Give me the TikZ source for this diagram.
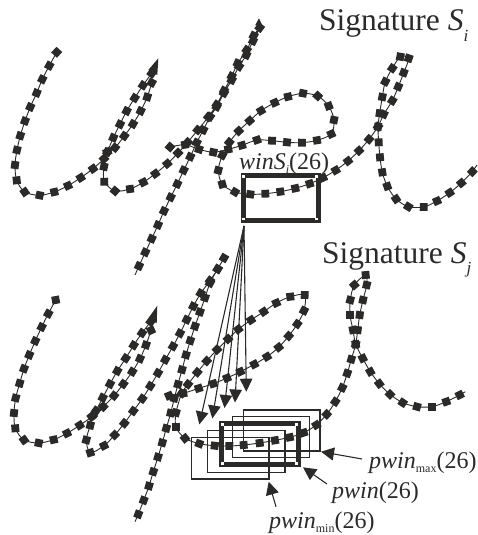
\documentclass[tikz,border=0pt]{standalone}
\usepackage{fontspec}
\setmainfont{Liberation Serif}
\usetikzlibrary{arrows.meta}
\definecolor{ink}{HTML}{2B2A29}
\tikzset{
  curveline/.style={draw=ink,line width=0.9pt},
  thinwin/.style={draw=ink,line width=1.5pt},
  thickwin/.style={draw=ink,line width=4.8pt},
  fanarrow/.style={draw=ink,line width=1.1pt,-{Triangle[length=13pt,width=12.5pt]}},
  callarrow/.style={draw=ink,line width=1.1pt,-{Triangle[length=13pt,width=13pt]}},
  bigtext/.style={text=ink,anchor=base west,inner sep=0pt,font=\fontsize{31.5}{34}\selectfont},
  labeltext/.style={text=ink,anchor=base west,inner sep=0pt,font=\fontsize{24}{26}\selectfont},
}
\newcommand{\sigstroke}[1]{%
  \gdef\acc{}%
  \foreach \x/\y in {#1}{\xdef\acc{\acc (\x,\y)}}%
  \edef\tmpdraw{\noexpand\draw[curveline] plot[smooth,tension=.5] coordinates {\acc};}\tmpdraw
  \foreach \x/\y [remember=\x as \px (initially 0),remember=\y as \py (initially 0)] in {#1}{%
    \pgfmathsetmacro\ang{atan2(\py-\y,\x-\px)}%
    \fill[ink,shift={(\x,\y)},rotate=\ang] (-3.9,-3.9) rectangle (3.9,3.9);
  }%
}
\newcommand{\whitecorner}[2]{\fill[white] (#1-1.3,#2-1.3) rectangle (#1+1.3,#2+1.3);}
\newcommand{\subtext}[1]{\raisebox{-.2em}{\fontsize{12}{12}\selectfont #1}}
\newcommand{\bigsub}[1]{\raisebox{-.33em}{\fontsize{17}{17}\selectfont #1}}
\begin{document}
\begin{tikzpicture}[x=1pt,y=-1pt]
\useasboundingbox (0,0) rectangle (477,535);

% search windows
\draw[thinwin] (243.3,410) rectangle (320,451);
\draw[thinwin] (232.3,416.7) rectangle (309.3,457.7);
\draw[thinwin] (207.7,430.7) rectangle (285,472.3);
\draw[thinwin] (191.7,437.7) rectangle (269,479);
\draw[thickwin] (221.7,423.3) rectangle (298.2,464.8);
\whitecorner{222.3}{424.3}\whitecorner{296.7}{424.3}\whitecorner{222.3}{463.3}\whitecorner{296.7}{463.3}

\draw[thickwin] (243.2,175.5) rectangle (318.3,220.8);
\whitecorner{243.3}{176.7}\whitecorner{316.7}{176.7}\whitecorner{243.3}{219}\whitecorner{316.7}{219}

% signature S_i
\sigstroke{56.7/52.3,49.3/65.7,42.3/79.3,36.7/93,30.3/107,25/121,20.3/135.7,17/150,15/165,16.7/180.3,24.7/192,39.7/195.3,54.3/192,68/185.7,80.7/177.7,93/168.7,104/158.7,107.3/152,113.3/137.7,120/124.3,126.7/111,134.7/98,143/85.3,151.7/73.3}
\fill[ink] (158.3,58.3) -- (148.3,70) -- (157.3,75) -- cycle;
\sigstroke{151.7/82.7,147.3/97,140.7/111,133/124,124.3/136,115/147.7,107.3/152,104/166.7,104.3/181.7,115/191,130/189,143.3/182.3,155.3/173.7,167.3/163.7,178/153,187.7/142.3,197.7/130,208.3/117,216.7/104.7,224/90.7,231.7/76.3,237.7/63.3,246.7/50,253.7/35.7,259.7/27.7,253/41,246.3/55,239/66.5,231.7/80,224/93,216.7/106.7,210/116.7,203.3/130,196.7/142.7,190.3/156.7,183.7/170.3,177.3/184,170.7/197.3,164/211,158/225,151.7/238.7,145.3/252.3,139/266}
\draw[curveline] (139,266) -- (135,275);
\fill[ink] (259,18.3) -- (255.3,25) -- (263.7,28.3) -- cycle;
\sigstroke{170/147,185/144.7,199/149.3,213.3/152.3,228.3/149.3,242/145.3,257/140,272/140.7,287/142.3,302/142.7,317/140.3,331.3/134,334/120,328.7/106,317.7/96,303/93.3,288/96.7,274.7/102.7,261/110.7,249.7/120.7,238.7/131,229.3/142.3,222.3/155.3,218.3/170.3,222.3/184.3,235/192,250.3/194.3,265.3/193.7,280.3/191.7,295.3/188.3,309.7/183.7,323/177.7,335.7/170.3,348/161,359/150.7,369/139.3,378/126.7,383.7/114.3,392.3/100.7,398.3/86.7,403.7/72.7,408.7/58.3,400.3/56.7,392.3/68.3,385.3/81.7,382.3/97,379.7/113.3,378/126.7,378.7/142.3,380/157.3,382.3/172.3,387.3/186.3,396/199,408.3/206.7,423.7/207,437/201,449.7/192.7,461.3/183,472.3/171.7}
\draw[curveline] (472.3,171.7) -- (477,165);

% signature S_j
\sigstroke{55.7/300,48.3/313.7,41.7/327,35.3/341,29.3/355,24/368.7,19.7/383.3,15.7/398,14/413,15.3/428.3,24/440,38.7/443,53.7/439.7,67/433.3,79.7/425.3,91.7/416.7,96/410.7,102.7/397.7,110/384,117.3/371,125.7/358.3,133.7/345.3,142/333,150.7/321.7}
\fill[ink] (157.3,305.7) -- (148.3,318.3) -- (156.7,323.3) -- cycle;
\sigstroke{151/330.3,146/345,140/358.7,132.3/371.7,123.3/384,114/395.7,103.3/406.7,92.7/415.7,90.3/425.3,86.3/440,90.3/452.7,104/445.7,114.7/435,124.3/423.3,133.3/411,142.3/398.7,150.3/386,158/373,165.3/359.7,173/346.3,180/333.3,186.7/319.7,193.3/306.3,200.7/293.3,210/280.7,217.7/269,224/258,217.7/269,210/283,205/297.7,200/312,195/326.3,190.3/340.7,186/355,182/369.7,178/384.3,174.3/398.3,170.7/413,166.3/428.3,162.3/442.7,158/457,153.3/471.7,149/486,143.7/500.3,138.3/514.3}
\draw[curveline] (138.3,514.3) -- (135,521.7);
\sigstroke{169/395.7,183.3/393.3,198.7/388.3,213.3/383.7,227/378,240.3/371.7,254.3/364.3,267/356.7,278.7/347.3,288.7/336,297.3/324,304/310.7,304.7/295,290.3/296.7,276.3/303,263.7/311.7,251/320,238.3/329.3,228/339,217/349.7,206.7/361,197.3/372.3,188/384.3,181.7/393.3,176/412.7,176/427.3,185/438.3,199.3/443.7,214.7/445.7,229.3/446,243.7/445,259.7/443,275/440.3,289.7/437.3,303.7/432.7,316.3/425,326.7/414.3,335.3/401.7,342.3/387.7,347.3/373.3,351.3/359.3,355.7/344.3,357.7/330,359.7/315,363/300,366.7/285,365.7/275,354.3/285,350.3/300,350/315,353/330,355.7/344.3,362.7/358.3,370.3/371.7,379.3/383.7,390/394.3,402.7/402.7,417/406.7,432/406.7,446.3/401.7,459.7/395}
\draw[curveline] (459.7,395) -- (465.3,391.7);

% fan of arrows
\coordinate (fanstart) at (244,226);
\coordinate (fana) at (199.3,424.5);
\coordinate (fanb) at (212.3,418.5);
\coordinate (fanc) at (224.5,408);
\coordinate (fand) at (235,402.5);
\coordinate (fane) at (246.3,391.7);
\draw[fanarrow] (fanstart) -- (fana);
\draw[fanarrow] (fanstart) -- (fanb);
\draw[fanarrow] (fanstart) -- (fanc);
\draw[fanarrow] (fanstart) -- (fand);
\draw[fanarrow] (fanstart) -- (fane);

% labels
\node[bigtext] (si) at (319,31) {Signature \textit{S}\bigsub{\textit{i}}};
\node[bigtext] (sj) at (322,263) {Signature \textit{S}\bigsub{\textit{j}}};
\node[labeltext] (win) at (239,169) {\textit{winS}\subtext{\textit{i}}(26)};
\node[labeltext] (pmax) at (369,468) {\textit{pwin}\subtext{max}(26)};
\node[labeltext] (pw) at (332,498.5) {\textit{pwin}(26)};
\node[labeltext] (pmin) at (269,528) {\textit{pwin}\subtext{min}(26)};

% callouts
\coordinate (pmaxtail) at (362,459);
\coordinate (pmaxtip) at (321,451.7);
\coordinate (pwtail) at (327,484);
\coordinate (pwtip) at (303,467.3);
\coordinate (pmintail) at (276,506.7);
\coordinate (pmintip) at (268.7,481.7);
\draw[callarrow] (pmaxtail) -- (pmaxtip);
\draw[callarrow] (pwtail) -- (pwtip);
\draw[callarrow] (pmintail) -- (pmintip);
\end{tikzpicture}
\end{document}
